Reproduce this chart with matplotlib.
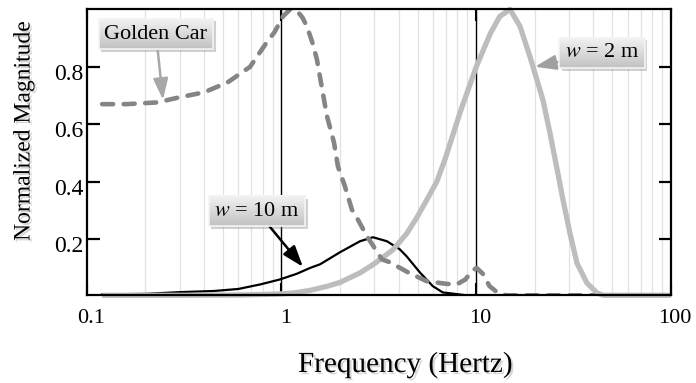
import numpy as np
import matplotlib
matplotlib.use("Agg")
import matplotlib.pyplot as plt
import matplotlib.patheffects as pe
from matplotlib.transforms import ScaledTranslation, Bbox, IdentityTransform
from matplotlib.patches import Rectangle
from matplotlib.image import BboxImage

plt.rcParams['font.family'] = ['Liberation Serif', 'DejaVu Serif']
plt.rcParams['mathtext.fontset'] = 'stix'

# ---- data ----
gc_f = [0.12, 0.16, 0.23, 0.30, 0.40, 0.53, 0.69, 0.84, 0.92, 1.02, 1.11, 1.2, 1.28, 1.35,
        1.44, 1.52, 1.62, 1.71, 1.86, 1.95, 2.12, 2.30, 2.47, 2.75, 3.28, 3.6, 4.46, 5.57,
        7.0, 7.94, 8.8, 9.5, 10.05, 10.8, 11.7, 13.0, 14.3, 20, 30, 40]
gc_y = [0.67, 0.67, 0.676, 0.694, 0.711, 0.746, 0.80, 0.885, 0.92, 0.976, 1.0, 0.995, 0.972,
        0.941, 0.885, 0.826, 0.72, 0.63, 0.537, 0.453, 0.383, 0.303, 0.268, 0.21, 0.13, 0.12,
        0.085, 0.054, 0.045, 0.043, 0.06, 0.09, 0.10, 0.08, 0.037, 0.012, 0.005, 0.005, 0.005, 0.005]

w2_f = [0.12, 0.3, 0.6, 0.8, 1.0, 1.15, 1.4, 1.71, 2.0, 2.53, 3.0, 3.73, 4.4, 4.95, 5.5, 6.27,
        6.93, 8.25, 10.0, 11.8, 13.2, 14.9, 16.8, 18.9, 22.0, 23.9, 25.9, 27.9, 30.3, 32.9,
        37.0, 41.7, 45, 60, 100]
w2_y = [0.005, 0.005, 0.006, 0.008, 0.01, 0.013, 0.022, 0.036, 0.05, 0.083, 0.115, 0.163, 0.22,
        0.275, 0.33, 0.40, 0.48, 0.64, 0.80, 0.915, 0.975, 1.0, 0.94, 0.834, 0.685, 0.57, 0.45,
        0.337, 0.22, 0.117, 0.048, 0.013, 0.005, 0.005, 0.005]

w10_f = [0.12, 0.2, 0.3, 0.45, 0.6, 0.78, 0.98, 1.2, 1.40, 1.58, 2.0, 2.53, 2.95, 3.48, 4.05,
         4.4, 5.13, 5.98, 6.73, 8.2, 8.9, 20, 40]
w10_y = [0.008, 0.01, 0.016, 0.02, 0.027, 0.043, 0.06, 0.08, 0.10, 0.113, 0.155, 0.193, 0.207,
         0.193, 0.165, 0.14, 0.085, 0.037, 0.015, 0.008, 0.005, 0.005, 0.005]

x_ticks = [0.1, 1, 10, 100]
x_ticklabels = ["0.1", "1", "10", "100"]
y_ticks = [0.2, 0.4, 0.6, 0.8]
y_ticklabels = ["0.2", "0.4", "0.6", "0.8"]

# ---- figure ----
fig = plt.figure(figsize=(6.96, 3.83), dpi=100)
ax = fig.add_axes([86.7/696, 1-295.3/383, (671-86.7)/696, (295.3-9.3)/383])
ax.set_xscale('log')
ax.set_xlim(0.1, 100)
ax.set_ylim(0.005, 1.0)

# grid
minor = [m*10.0**e for e in (-1, 0, 1) for m in range(2, 10)]
for v in minor:
    ax.axvline(v, color='#e2e2e2', lw=0.9, zorder=0)
for v in (1, 10):
    ax.axvline(v, color='black', lw=1.0, zorder=1)

ax.plot(w10_f, w10_y, color='black', lw=1.6, zorder=3, solid_joinstyle='round')
ax.plot(w2_f, w2_y, color='#bdbdbd', lw=3.8, zorder=4, solid_capstyle='butt',
        solid_joinstyle='round', clip_on=False)
ax.plot(gc_f, gc_y, color='#858585', lw=3.3, zorder=5, dashes=(2.4, 2.3), dash_capstyle='round')

for s in ax.spines.values():
    s.set_linewidth(1.6)
    s.set_zorder(6)

ax.set_xticks(x_ticks)
ax.set_xticklabels(x_ticklabels)
ax.xaxis.set_minor_locator(matplotlib.ticker.NullLocator())
ax.tick_params(axis='x', which='major', direction='in', length=8.5, width=1.5,
               top=True, labelsize=16, pad=10)
ax.set_yticks(y_ticks)
ax.set_yticklabels(y_ticklabels)
ax.tick_params(axis='y', which='major', direction='in', length=9, width=1.6,
               right=True, labelsize=17, pad=2.5)

for lab in ax.get_xticklabels():
    lab.set_transform(lab.get_transform() + ScaledTranslation(4/100, 0, fig.dpi_scale_trans))
for lab in ax.get_yticklabels():
    lab.set_transform(lab.get_transform() + ScaledTranslation(0, -5/100, fig.dpi_scale_trans))

shadow = [pe.withSimplePatchShadow(offset=(1.5, -1.5), shadow_rgbFace='#888888', alpha=0.35)]
fig.text(405/696, 1-372/383, "Frequency (Hertz)", fontsize=21, ha='center', va='baseline',
         path_effects=shadow)
fig.text(24/696, 1-131/383, "Normalized Magnitude", fontsize=17, ha='center', va='center',
         rotation=90, path_effects=shadow)

# annotations
def label(text, xy, xytext, color, size):
    a = ax.annotate(text, xy=xy, xytext=xytext, textcoords='data', fontsize=size,
                    ha='center', va='center', zorder=8,
                    bbox=dict(boxstyle='square,pad=0.25', fc='none', ec='#f4f4f4', lw=1.2),
                    arrowprops=dict(arrowstyle='-|>,head_length=0.8,head_width=0.28',
                                    color=color, lw=1.8, shrinkA=0, shrinkB=0))
    return a

anns = [label("Golden Car", (0.2464, 0.685), (0.2268, 0.914), '#a8a8a8', 16),
        label("$w$ = 10 m", (1.289, 0.104), (0.748, 0.298), 'black', 16),
        label("$w$ = 2 m", (20.0, 0.80), (44.2, 0.848), '#a0a0a0', 16)]

fig.canvas.draw()
renderer = fig.canvas.get_renderer()
grad = np.linspace(0.95, 0.76, 64).reshape(-1, 1)
for a in anns:
    bb = a.get_bbox_patch().get_window_extent(renderer)
    sh = Rectangle((bb.x0 + 2.5, bb.y0 - 2.5), bb.width, bb.height, transform=IdentityTransform(),
                   fc='#7a7a7a', ec='none', alpha=0.35, zorder=7.4, clip_on=False)
    ax.add_patch(sh)
    img = BboxImage(Bbox.from_bounds(bb.x0, bb.y0, bb.width, bb.height), cmap='gray',
                    norm=matplotlib.colors.Normalize(0, 1), interpolation='bilinear',
                    zorder=7.5)
    img.set_data(grad)
    img.set_clip_on(False)
    ax.add_artist(img)

fig.savefig("out.png", dpi=100)
